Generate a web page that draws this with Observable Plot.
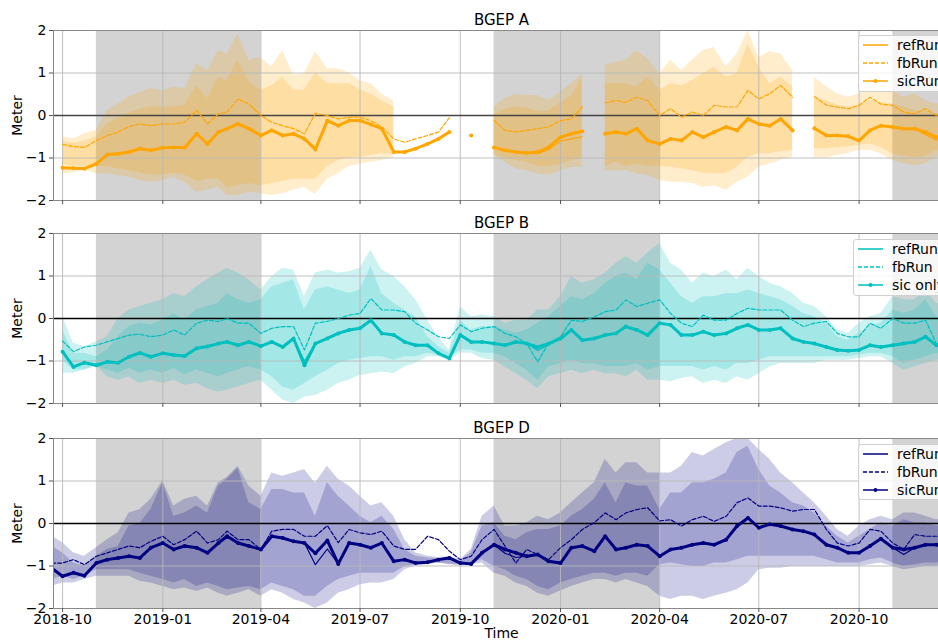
<!DOCTYPE html>
<html><head><meta charset="utf-8">
<script src="https://cdn.jsdelivr.net/npm/d3@7"></script>
<script src="https://cdn.jsdelivr.net/npm/@observablehq/plot@0.6"></script>
<style>
html,body{margin:0;padding:0;background:#fff;overflow:hidden;width:938px;height:641px;}
#root{position:relative;width:938px;height:641px;overflow:hidden;font-family:"DejaVu Sans",sans-serif;}
.panel{position:absolute;left:0;}
.legend{position:absolute;background:rgba(255,255,255,0.82);border:1px solid #d0d0d0;border-radius:3px;box-sizing:border-box;}
.lg-text{position:absolute;font-size:14px;line-height:18px;white-space:nowrap;color:#000;}
.lg-svg{position:absolute;}
</style></head>
<body><div id="root"></div>
<script>
const dates = ["2018-09-21","2018-10-01","2018-10-11","2018-10-21","2018-11-01","2018-11-11","2018-11-21","2018-12-01","2018-12-11","2018-12-21",
"2019-01-01","2019-01-11","2019-01-21","2019-02-01","2019-02-11","2019-02-21","2019-03-01","2019-03-11","2019-03-21","2019-04-01",
"2019-04-11","2019-04-21","2019-05-01","2019-05-11","2019-05-21","2019-06-01","2019-06-11","2019-06-21","2019-07-01","2019-07-11",
"2019-07-21","2019-08-01","2019-08-11","2019-08-21","2019-09-01","2019-09-11","2019-09-21","2019-10-01","2019-10-11","2019-10-21",
"2019-11-01","2019-11-11","2019-11-21","2019-12-01","2019-12-11","2019-12-21","2020-01-01","2020-01-11","2020-01-21","2020-02-01",
"2020-02-11","2020-02-21","2020-03-01","2020-03-11","2020-03-21","2020-04-01","2020-04-11","2020-04-21","2020-05-01","2020-05-11",
"2020-05-21","2020-06-01","2020-06-11","2020-06-21","2020-07-01","2020-07-11","2020-07-21","2020-08-01","2020-08-11","2020-08-21",
"2020-09-01","2020-09-11","2020-09-21","2020-10-01","2020-10-11","2020-10-21","2020-11-01","2020-11-11","2020-11-21","2020-12-01",
"2020-12-11","2020-12-21"];

const xDomain = ["2018-09-22T16:00:00Z","2020-12-23T00:00:00Z"];
const xTickDates = ["2018-10-01","2019-01-01","2019-04-01","2019-07-01","2019-10-01","2020-01-01","2020-04-01","2020-07-01","2020-10-01"];
const yTicks = [-2,-1,0,1,2];
const winterStart = ["2018-11-01","2019-11-01","2020-11-01"];
const winterEnd = ["2019-04-01","2020-04-01","2021-04-01"];

const titles = ["BGEP A","BGEP B","BGEP D"];
const legendLabels = [["refRun","fbRun","sicRun"],["refRun","fbRun","sic only"],["refRun","fbRun","sicRun"]];

// ---------- BGEP A ----------
const A_sic = [null,-1.23,-1.24,-1.25,-1.14,-0.92,-0.90,-0.86,-0.78,-0.82,
-0.76,-0.75,-0.76,-0.43,-0.67,-0.39,-0.31,-0.20,-0.31,-0.47,
-0.35,-0.47,-0.43,-0.55,-0.80,-0.12,-0.24,-0.12,-0.12,-0.21,
-0.31,-0.86,-0.86,-0.78,-0.67,-0.55,-0.39,null,-0.47,null,
-0.75,-0.82,-0.86,-0.88,-0.86,-0.75,-0.51,-0.43,-0.37,null,
-0.43,-0.39,-0.43,-0.31,-0.59,-0.67,-0.55,-0.59,-0.39,-0.51,
-0.39,-0.27,-0.35,-0.08,-0.20,-0.24,-0.08,-0.35,null,-0.30,
-0.47,-0.47,-0.49,-0.59,-0.35,-0.24,-0.27,-0.31,-0.31,-0.39,
-0.51,-0.50];
const A_fb = [null,-0.68,-0.73,-0.75,-0.59,-0.47,-0.39,-0.26,-0.20,-0.24,
-0.20,-0.20,-0.16,0.12,-0.20,0.04,0.08,0.39,0.27,0.00,
-0.16,-0.24,-0.31,-0.43,0.05,0.00,-0.08,-0.04,-0.04,-0.12,
-0.27,-0.55,-0.63,-0.55,-0.47,-0.39,-0.05,null,-0.10,null,
-0.12,-0.35,-0.39,-0.35,-0.31,-0.27,-0.12,-0.08,0.20,null,
0.30,0.35,0.31,0.43,0.35,0.00,0.16,-0.04,0.08,0.00,
0.24,0.20,0.20,0.59,0.39,0.51,0.71,0.43,null,0.45,
0.24,0.20,0.16,0.24,0.43,0.27,0.24,0.08,0.04,0.16,
0.00,-0.05];
const A_ref = [null,-1.23,-1.24,-1.25,-1.14,-0.92,-0.90,-0.86,-0.78,-0.82,
-0.76,-0.75,-0.76,-0.43,-0.67,-0.39,-0.31,-0.20,-0.31,-0.47,
-0.35,-0.47,-0.43,-0.55,-0.75,-0.12,-0.24,-0.12,-0.12,-0.21,
-0.31,-0.86,-0.86,-0.78,-0.67,-0.55,-0.39,null,-0.47,null,
-0.75,-0.82,-0.86,-0.88,-0.90,-0.80,-0.60,-0.55,-0.50,null,
-0.43,-0.39,-0.43,-0.31,-0.59,-0.67,-0.55,-0.59,-0.39,-0.51,
-0.39,-0.27,-0.35,-0.08,-0.20,-0.24,-0.08,-0.35,null,-0.30,
-0.47,-0.47,-0.49,-0.59,-0.35,-0.24,-0.27,-0.31,-0.31,-0.45,
-0.58,-0.55];
const A_hi1 = [null,-0.50,-0.55,-0.43,-0.35,0.12,0.27,0.43,0.55,0.63,
0.59,0.67,0.63,1.22,1.06,1.53,1.45,1.92,1.30,1.37,
1.14,1.53,0.95,0.98,1.50,1.10,1.10,1.00,0.82,0.75,
0.50,0.35,null,null,null,null,null,null,null,null,
0.20,0.40,0.50,0.47,0.47,0.35,0.55,0.75,0.98,null,
1.20,1.25,1.30,1.53,1.33,0.98,1.30,1.06,1.30,1.53,
1.60,1.14,1.45,2.00,1.37,1.50,1.45,1.06,null,0.90,
0.67,0.51,0.43,0.51,0.75,0.59,0.59,0.43,0.51,0.35,
0.27,0.30];
const A_lo1 = [null,-1.37,-1.35,-1.29,-1.37,-1.37,-1.41,-1.45,-1.53,-1.57,
-1.53,-1.45,-1.57,-1.80,-1.76,-1.69,-1.88,-1.88,-1.80,-1.84,
-1.88,-1.84,-1.76,-1.69,-1.85,-1.50,-1.37,-1.20,-1.14,-1.10,
-1.06,-0.98,null,null,null,null,null,null,null,null,
-0.95,-1.10,-1.25,-1.30,-1.37,-1.41,-1.30,-1.22,-1.22,null,
-1.30,-1.30,-1.30,-1.37,-1.41,-1.53,-1.57,-1.57,-1.60,-1.69,
-1.65,-1.76,-1.57,-1.45,-1.22,-1.14,-1.06,-0.98,null,-0.98,
-1.00,-0.94,-0.90,-0.82,-0.82,-0.90,-1.06,-1.14,-1.18,-1.14,
-0.98,-1.00];
const A_hi2 = [null,-0.60,-0.65,-0.60,-0.50,-0.20,-0.05,0.05,0.15,0.20,
0.20,0.20,0.25,0.70,0.40,0.90,0.80,1.30,0.80,0.60,
0.70,0.90,0.60,0.60,1.00,0.75,0.75,0.75,0.60,0.50,
0.35,0.20,null,null,null,null,null,null,null,null,
0.00,0.15,0.20,0.17,0.10,0.10,0.30,0.45,0.90,null,
0.75,0.75,0.75,0.67,0.90,0.60,0.75,0.70,0.82,0.98,
1.14,0.90,0.98,1.69,1.14,0.75,0.90,0.67,null,0.43,
0.35,0.25,0.20,0.25,0.35,0.30,0.27,0.20,0.12,0.10,
0.04,0.05];
const A_lo2 = [null,-1.15,-1.20,-1.20,-1.20,-1.20,-1.25,-1.30,-1.35,-1.40,
-1.40,-1.35,-1.40,-1.55,-1.50,-1.50,-1.70,-1.65,-1.60,-1.65,
-1.60,-1.55,-1.50,-1.50,-1.50,-1.20,-1.06,-1.00,-0.98,-0.94,
-0.90,-0.90,null,null,null,null,null,null,null,null,
-0.90,-1.00,-1.06,-1.10,-1.20,-1.20,-1.15,-1.06,-1.00,null,
-1.20,-1.10,-1.20,-1.14,-1.20,-1.20,-1.22,-1.25,-1.30,-1.35,
-1.37,-1.37,-1.22,-0.98,-0.90,-0.90,-0.85,-0.82,null,-0.78,
-0.78,-0.76,-0.74,-0.70,-0.67,-0.75,-0.90,-0.95,-1.00,-0.95,
-0.82,-0.85];

// ---------- BGEP B ----------
const B_sic = [null,-0.78,-1.14,-1.04,-1.10,-1.02,-1.04,-0.90,-0.81,-0.90,
-0.82,-0.86,-0.88,-0.70,-0.66,-0.59,-0.55,-0.63,-0.55,-0.65,
-0.55,-0.67,-0.47,-1.10,-0.59,-0.47,-0.35,-0.27,-0.23,-0.04,
-0.35,-0.39,-0.55,-0.63,-0.63,-0.82,-0.94,-0.39,-0.55,-0.55,
-0.59,-0.63,-0.55,-0.59,-0.67,-0.59,-0.47,-0.27,-0.51,-0.47,
-0.39,-0.35,-0.19,-0.27,-0.39,-0.11,-0.15,-0.39,-0.39,-0.31,
-0.39,-0.35,-0.23,-0.15,-0.27,-0.27,-0.23,-0.47,-0.55,-0.59,
-0.67,-0.74,-0.76,-0.74,-0.63,-0.67,-0.63,-0.59,-0.55,-0.43,
-0.63,-0.62];
const B_fb = [null,-0.53,-0.78,-0.67,-0.63,-0.55,-0.47,-0.39,-0.37,-0.43,
-0.39,-0.27,-0.39,-0.11,-0.04,-0.07,0.00,-0.11,-0.11,-0.35,
-0.23,-0.19,-0.19,-0.74,-0.11,-0.07,0.00,0.08,0.12,0.47,
0.20,0.20,0.16,-0.11,-0.27,-0.43,-0.47,-0.15,-0.31,-0.23,
-0.19,-0.35,-0.43,-0.59,-1.02,-0.59,-0.43,-0.04,-0.07,0.04,
0.16,0.20,0.44,0.28,0.36,0.44,0.12,-0.11,-0.19,0.08,
-0.04,-0.04,0.12,0.24,0.20,0.20,0.20,-0.04,-0.19,-0.11,
-0.07,-0.35,-0.43,-0.43,-0.11,-0.23,0.00,-0.11,-0.11,-0.04,
-0.59,-0.60];
const B_ref = [null,-0.78,-1.14,-1.04,-1.10,-1.02,-1.04,-0.90,-0.81,-0.90,
-0.82,-0.86,-0.88,-0.70,-0.66,-0.59,-0.55,-0.63,-0.55,-0.65,
-0.55,-0.67,-0.47,-1.00,-0.59,-0.47,-0.35,-0.27,-0.23,-0.04,
-0.35,-0.39,-0.55,-0.63,-0.63,-0.82,-0.94,-0.39,-0.55,-0.55,
-0.59,-0.63,-0.55,-0.59,-0.75,-0.62,-0.47,-0.27,-0.51,-0.47,
-0.39,-0.35,-0.19,-0.27,-0.39,-0.11,-0.15,-0.39,-0.39,-0.31,
-0.39,-0.35,-0.23,-0.15,-0.27,-0.27,-0.23,-0.47,-0.55,-0.59,
-0.67,-0.74,-0.76,-0.74,-0.63,-0.67,-0.63,-0.59,-0.55,-0.43,
-0.60,-0.62];
const B_hi1 = [null,0.04,-0.58,-0.66,-0.55,-0.43,0.00,0.20,0.28,0.36,
0.44,0.59,0.52,0.75,0.91,1.07,1.18,1.07,0.91,0.67,
0.99,1.18,1.14,0.52,1.07,1.14,1.07,1.10,1.18,1.61,
1.14,0.99,0.75,0.44,-0.04,-0.45,-0.74,0.28,0.04,0.08,
0.04,-0.11,-0.04,-0.04,0.20,0.20,0.51,0.99,0.83,0.91,
1.07,1.30,1.46,1.30,1.54,1.77,1.30,1.14,0.83,1.07,
0.99,1.14,0.91,1.18,0.99,0.83,0.75,0.59,0.36,0.28,
0.04,-0.27,-0.35,-0.11,0.04,0.12,0.51,0.44,0.44,0.67,
0.36,0.30];
const B_lo1 = [null,-1.29,-1.29,-1.21,-1.10,-1.37,-1.45,-1.37,-1.53,-1.45,
-1.53,-1.45,-1.57,-1.53,-1.65,-1.73,-1.69,-1.61,-1.53,-1.45,
-1.69,-1.92,-2.00,-1.85,-1.81,-1.69,-1.53,-1.45,-1.34,-1.30,
-1.26,-1.30,-1.14,-1.06,-0.90,-0.90,-0.98,-0.82,-0.82,-0.94,
-0.98,-1.14,-1.30,-1.45,-1.65,-1.37,-1.30,-1.22,-1.30,-1.22,
-1.30,-1.30,-1.37,-1.22,-1.45,-1.45,-1.49,-1.41,-1.37,-1.53,
-1.45,-1.53,-1.37,-1.45,-1.30,-1.14,-1.06,-1.06,-1.06,-1.06,
-0.98,-0.98,-0.98,-0.94,-0.90,-0.90,-1.06,-1.22,-1.14,-1.06,
-0.98,-0.95];
const B_hi2 = [null,-0.27,-0.82,-0.82,-0.90,-0.74,-0.43,-0.19,-0.11,-0.15,
-0.04,0.12,-0.04,0.20,0.28,0.36,0.59,0.44,0.36,0.44,
0.75,0.83,0.91,0.20,0.67,0.75,0.67,0.59,0.67,1.22,
0.59,0.36,0.20,0.04,-0.43,-0.66,-0.82,-0.04,-0.27,-0.19,
-0.19,-0.27,-0.35,-0.27,-0.11,0.04,0.28,0.51,0.44,0.59,
0.83,0.99,1.07,0.91,1.30,1.14,0.83,0.51,0.36,0.51,
0.51,0.59,0.59,0.67,0.59,0.51,0.44,0.28,0.12,0.04,
-0.11,-0.43,-0.51,-0.35,-0.19,-0.11,0.20,0.12,0.20,0.44,
0.04,0.00];
const B_lo2 = [null,-0.98,-1.21,-1.21,-1.13,-1.21,-1.29,-1.17,-1.29,-1.21,
-1.29,-1.17,-1.33,-1.21,-1.29,-1.37,-1.29,-1.21,-1.13,-1.21,
-1.37,-1.61,-1.69,-1.53,-1.37,-1.22,-1.06,-0.98,-0.94,-0.90,
-0.90,-0.98,-0.90,-0.90,-0.82,-0.86,-0.94,-0.74,-0.74,-0.82,
-0.82,-0.90,-1.06,-1.22,-1.45,-1.14,-1.06,-0.98,-1.06,-1.06,
-1.13,-1.13,-1.13,-1.06,-1.21,-1.13,-1.13,-1.13,-1.13,-1.21,
-1.13,-1.21,-1.06,-1.06,-0.98,-0.90,-0.90,-0.90,-0.90,-0.90,
-0.90,-0.90,-0.90,-0.86,-0.82,-0.82,-0.90,-1.06,-0.98,-0.90,
-0.82,-0.80];

// ---------- BGEP D ----------
const D_sic = [-1.05,-1.24,-1.16,-1.23,-0.93,-0.85,-0.81,-0.77,-0.81,-0.57,
-0.46,-0.61,-0.53,-0.57,-0.69,-0.46,-0.30,-0.46,-0.53,-0.61,
-0.30,-0.34,-0.42,-0.46,-0.70,-0.40,-0.95,-0.46,-0.50,-0.57,
-0.46,-0.89,-0.85,-0.93,-0.91,-0.85,-0.81,-0.93,-0.95,-0.69,
-0.50,-0.61,-0.69,-0.77,-0.73,-0.89,-0.93,-0.57,-0.53,-0.65,
-0.30,-0.61,-0.57,-0.50,-0.53,-0.77,-0.61,-0.57,-0.50,-0.46,
-0.50,-0.38,-0.06,0.13,-0.10,-0.02,-0.06,-0.14,-0.18,-0.26,
-0.50,-0.57,-0.69,-0.69,-0.53,-0.36,-0.57,-0.61,-0.57,-0.50,
-0.50,-0.48];
const D_fb = [-0.93,-0.93,-0.85,-0.97,-0.77,-0.69,-0.61,-0.53,-0.57,-0.42,
-0.30,-0.50,-0.38,-0.18,-0.46,-0.38,-0.18,-0.38,-0.38,-0.61,
-0.18,-0.14,-0.14,-0.30,-0.30,-0.05,-0.45,-0.14,-0.22,-0.26,
-0.18,-0.53,-0.61,-0.61,-0.30,-0.38,-0.65,-0.85,-0.77,-0.38,
-0.14,-0.53,-0.93,-0.61,-0.73,-0.85,-0.57,-0.38,-0.14,0.02,
0.25,0.09,0.25,0.33,0.37,0.06,0.09,-0.06,0.09,0.17,
0.05,0.17,0.49,0.60,0.41,0.41,0.37,0.29,0.33,0.33,
-0.14,-0.46,-0.53,-0.46,-0.14,-0.18,-0.46,-0.61,-0.26,-0.30,
-0.30,-0.30];
const D_ref = [-1.05,-1.24,-1.16,-1.23,-0.93,-0.85,-0.81,-0.77,-0.81,-0.57,
-0.46,-0.61,-0.53,-0.57,-0.69,-0.46,-0.30,-0.46,-0.53,-0.61,
-0.30,-0.34,-0.42,-0.46,-0.97,-0.60,-0.95,-0.46,-0.50,-0.57,
-0.46,-0.89,-0.85,-0.93,-0.91,-0.85,-0.81,-0.93,-0.95,-0.69,
-0.50,-0.70,-0.80,-0.77,-0.73,-0.89,-0.93,-0.57,-0.53,-0.65,
-0.30,-0.61,-0.57,-0.50,-0.53,-0.77,-0.61,-0.57,-0.50,-0.46,
-0.50,-0.38,-0.06,0.13,-0.10,-0.02,-0.06,-0.14,-0.18,-0.26,
-0.50,-0.57,-0.69,-0.69,-0.53,-0.36,-0.57,-0.73,-0.57,-0.50,
-0.50,-0.48];
const D_hi1 = [-0.30,-0.45,-0.69,-0.77,-0.57,-0.38,-0.22,0.25,0.33,0.57,
1.00,0.41,0.57,0.64,0.41,0.96,1.08,1.35,0.88,0.64,
1.19,1.11,1.19,1.27,0.95,1.35,1.04,0.88,0.64,0.41,
0.49,0.17,-0.38,-0.69,-0.77,-0.80,-0.78,-0.85,-0.61,0.17,
0.41,-0.06,-0.06,0.02,0.17,0.09,0.25,0.49,0.72,0.96,
1.51,1.19,1.43,1.43,1.19,1.19,1.19,1.35,1.67,1.59,
1.74,1.90,2.00,2.00,1.74,1.51,1.19,0.96,0.72,0.49,
0.17,-0.14,-0.30,-0.06,0.09,0.17,0.09,0.25,0.25,0.17,
0.09,0.10];
const D_lo1 = [-1.48,-1.40,-1.40,-1.32,-1.24,-1.24,-1.24,-1.24,-1.36,-1.40,
-1.48,-1.56,-1.52,-1.60,-1.52,-1.64,-1.71,-1.64,-1.56,-1.71,
-1.56,-1.64,-1.79,-1.87,-2.00,-1.87,-1.64,-1.56,-1.44,-1.40,
-1.40,-1.32,-1.09,-1.00,-0.97,-0.93,-0.97,-1.00,-0.97,-0.93,
-1.17,-1.24,-1.40,-1.48,-1.64,-1.71,-1.59,-1.48,-1.40,-1.32,
-1.32,-1.40,-1.32,-1.40,-1.48,-1.71,-1.79,-1.71,-1.71,-1.79,
-1.71,-1.64,-1.56,-1.40,-1.09,-1.05,-1.05,-1.01,-1.01,-1.01,
-1.01,-1.01,-1.01,-1.01,-0.97,-0.93,-1.01,-1.09,-1.05,-1.01,
-1.01,-1.00];
const D_hi2 = [-0.54,-0.69,-0.93,-1.00,-0.77,-0.61,-0.54,-0.06,0.00,0.33,
0.96,0.17,0.25,0.41,0.25,0.88,1.04,1.30,0.49,0.33,
0.80,0.80,0.72,0.72,0.17,0.96,0.64,0.41,0.17,0.02,
0.17,-0.14,-0.61,-0.77,-0.81,-0.83,-0.80,-0.89,-0.69,-0.06,
0.02,-0.30,-0.38,-0.22,-0.14,-0.14,-0.06,0.17,0.33,0.57,
0.96,0.49,0.96,0.88,0.88,0.33,0.72,0.72,0.96,0.96,
1.04,1.19,1.67,1.82,1.27,0.88,0.72,0.49,0.41,0.25,
-0.06,-0.30,-0.46,-0.30,-0.14,0.02,-0.06,0.09,0.02,0.02,
-0.06,-0.05];
const D_lo2 = [-1.32,-1.24,-1.32,-1.24,-1.09,-1.09,-1.09,-1.09,-1.17,-1.24,
-1.32,-1.40,-1.32,-1.48,-1.40,-1.48,-1.56,-1.52,-1.48,-1.56,
-1.40,-1.48,-1.56,-1.71,-1.71,-1.48,-1.32,-1.24,-1.17,-1.17,
-1.17,-1.17,-1.01,-0.97,-0.95,-0.93,-0.95,-0.97,-0.93,-0.85,
-1.01,-1.09,-1.24,-1.32,-1.48,-1.56,-1.40,-1.32,-1.24,-1.17,
-1.17,-1.24,-1.17,-1.17,-1.24,-0.97,-0.93,-0.97,-1.01,-1.01,
-0.93,-0.93,-0.85,-0.77,-0.77,-0.77,-0.77,-0.77,-0.77,-0.77,
-0.85,-0.93,-0.93,-0.93,-0.85,-0.81,-0.93,-1.01,-0.97,-0.93,
-0.93,-0.90];

const panelColors = ["#FFA500","#00BFBF","#000080"];
const zeroColors = ["#444444","#000000","#000000"];

const root = document.getElementById("root");
const parseD = s => new Date(s);

function makePanel(cfg) {
  const {title, color, zeroColor, sic, fb, ref, hi1, lo1, hi2, lo2, marginTop, height, showX} = cfg;
  const data = dates.map((d, i) => ({date: parseD(d), sic: sic[i], fb: fb[i], ref: ref[i], hi1: hi1[i], lo1: lo1[i], hi2: hi2[i], lo2: lo2[i]}));
  const winters = winterStart.map((s, i) => ({x1: parseD(s), x2: parseD(winterEnd[i])}));
  const xt = xTickDates.map(parseD);
  const fmt = d3.utcFormat("%Y-%m");
  const yfmt = d3.format("d");
  const marks = [
    Plot.rect(winters, {x1: "x1", x2: "x2", fill: "#d3d3d3", clip: true}),
    Plot.areaY(data, {x: "date", y1: "lo1", y2: "hi1", fill: color, fillOpacity: 0.2, clip: true}),
    Plot.areaY(data, {x: "date", y1: "lo2", y2: "hi2", fill: color, fillOpacity: 0.2, clip: true}),
    Plot.ruleX(xt, {stroke: "#b8b8b8", strokeWidth: 0.9}),
    Plot.ruleY(yTicks, {stroke: "#b8b8b8", strokeWidth: 0.9}),
    Plot.ruleY([0], {stroke: zeroColor, strokeWidth: 1.5}),
    Plot.lineY(data, {x: "date", y: "ref", stroke: color, strokeWidth: 1.2, clip: true}),
    Plot.lineY(data, {x: "date", y: "fb", stroke: color, strokeWidth: 1.2, strokeDasharray: "4,2", clip: true}),
    Plot.lineY(data, {x: "date", y: "sic", stroke: color, strokeWidth: 3, strokeLinejoin: "round", clip: true}),
    Plot.dot(data, {x: "date", y: "sic", r: 2, fill: color, stroke: "none", clip: true}),
    Plot.frame({stroke: "#888"}),
    Plot.axisY({ticks: yTicks, tickSize: 4, tickPadding: 3, fontSize: 14, label: null, anchor: "left", stroke: "#555", tickFormat: d => yfmt(d)}),
    Plot.axisX({ticks: xt, tickSize: 4, tickPadding: 2, fontSize: 14, label: null, anchor: "bottom", stroke: "#555",
      tickFormat: showX ? (d => fmt(d)) : (() => "")}),
    Plot.text([title], {text: d => d, frameAnchor: "top", dy: -10, fontSize: 15, textAnchor: "middle", lineAnchor: "middle"}),
    Plot.text(["Meter"], {text: d => d, frameAnchor: "left", dx: -35.5, rotate: -90, fontSize: 14, textAnchor: "middle", lineAnchor: "middle"})
  ];
  if (showX) marks.push(Plot.text(["Time"], {text: d => d, frameAnchor: "bottom", dy: 25, fontSize: 14, textAnchor: "middle", lineAnchor: "middle"}));
  return Plot.plot({
    width: 950, height, marginTop, marginBottom: height - marginTop - 170, marginLeft: 53, marginRight: 1,
    style: {fontFamily: "DejaVu Sans", fontSize: "14px", background: "transparent", overflow: "visible", maxWidth: "none", color: "#000"},
    x: {type: "utc", domain: xDomain.map(parseD), axis: null},
    y: {domain: [-2, 2], axis: null},
    marks
  });
}

function makeLegend(left, top, height, color, labels) {
  const box = document.createElement("div");
  box.className = "legend";
  box.style.left = left + "px"; box.style.top = top + "px";
  box.style.width = "110px"; box.style.height = height + "px";
  const rows = [10, 28, 46];
  const ns = "http://www.w3.org/2000/svg";
  labels.forEach((lab, i) => {
    const svg = document.createElementNS(ns, "svg");
    svg.setAttribute("width", 26); svg.setAttribute("height", 10);
    svg.setAttribute("class", "lg-svg");
    svg.style.left = "4px"; svg.style.top = (rows[i] - 5 - 1) + "px";
    const ln = document.createElementNS(ns, "line");
    ln.setAttribute("x1", 0); ln.setAttribute("x2", 25); ln.setAttribute("y1", 5); ln.setAttribute("y2", 5);
    ln.setAttribute("stroke", color); ln.setAttribute("stroke-width", 1.5);
    if (i === 1) ln.setAttribute("stroke-dasharray", "4,2");
    svg.appendChild(ln);
    if (i === 2) {
      const c = document.createElementNS(ns, "circle");
      c.setAttribute("cx", 12.5); c.setAttribute("cy", 5); c.setAttribute("r", 2); c.setAttribute("fill", color);
      svg.appendChild(c);
    }
    box.appendChild(svg);
    const t = document.createElement("div");
    t.className = "lg-text";
    t.style.left = "38px"; t.style.top = (rows[i] - 9 - 1) + "px";
    t.textContent = lab;
    box.appendChild(t);
  });
  root.appendChild(box);
}

const configs = [
  {sic: A_sic, fb: A_fb, ref: A_ref, hi1: A_hi1, lo1: A_lo1, hi2: A_hi2, lo2: A_lo2, top: 0, marginTop: 30, height: 210, showX: false},
  {sic: B_sic, fb: B_fb, ref: B_ref, hi1: B_hi1, lo1: B_lo1, hi2: B_hi2, lo2: B_lo2, top: 203, marginTop: 30, height: 210, showX: false},
  {sic: D_sic, fb: D_fb, ref: D_ref, hi1: D_hi1, lo1: D_lo1, hi2: D_hi2, lo2: D_lo2, top: 406, marginTop: 32, height: 235, showX: true}
];
configs.forEach((c, i) => {
  const el = makePanel({...c, title: titles[i], color: panelColors[i], zeroColor: zeroColors[i]});
  const wrap = document.createElement("div");
  wrap.className = "panel";
  wrap.style.top = c.top + "px";
  wrap.appendChild(el);
  root.appendChild(wrap);
});
makeLegend(858, 35, 57, panelColors[0], legendLabels[0]);
makeLegend(853, 239, 57, panelColors[1], legendLabels[1]);
makeLegend(858, 444, 56, panelColors[2], legendLabels[2]);
</script></body></html>
